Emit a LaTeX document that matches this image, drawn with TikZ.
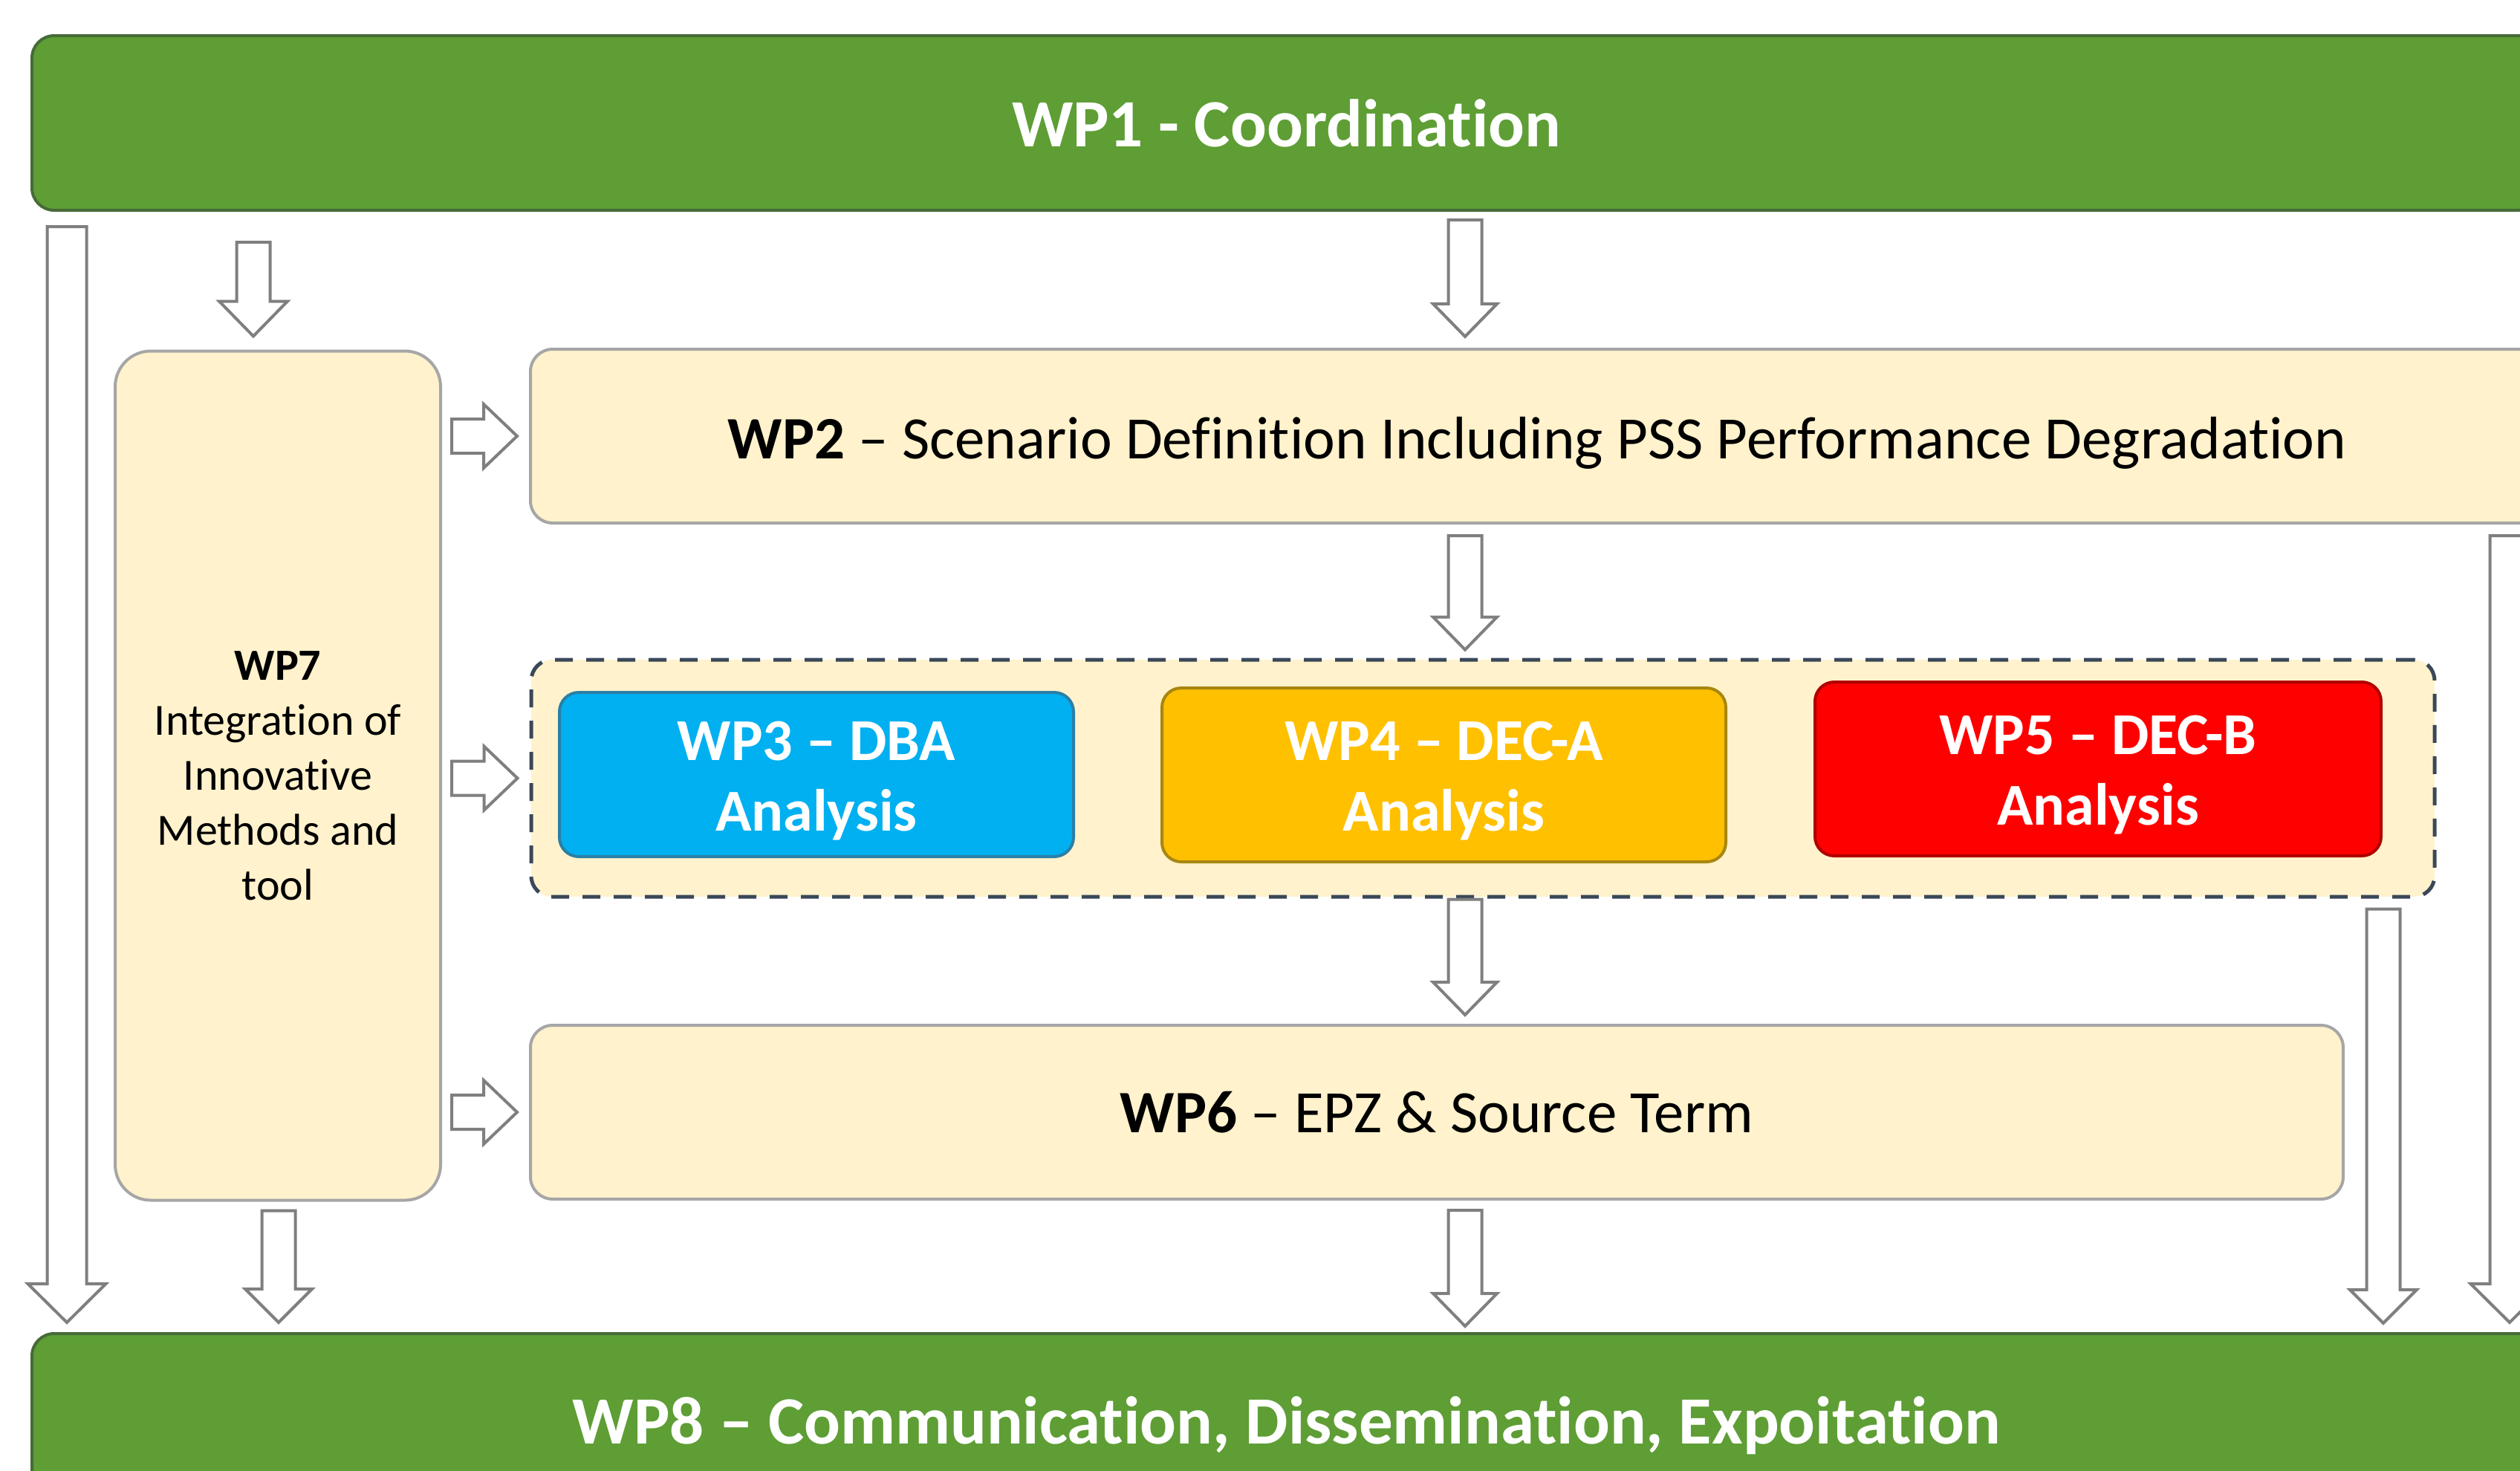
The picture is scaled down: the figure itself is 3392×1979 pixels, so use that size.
\documentclass[tikz,border=0pt]{standalone}
\usepackage{fontspec}
\setmainfont{Carlito}[RawFeature={-liga}]
\usetikzlibrary{calc}

\definecolor{wpgreen}{HTML}{5E9E35}
\definecolor{greenedge}{HTML}{476B38}
\definecolor{cream}{HTML}{FFF2CC}
\definecolor{creamedge}{HTML}{A6A6A6}
\definecolor{dashedge}{HTML}{3A4858}
\definecolor{wpblue}{HTML}{00B0F0}
\definecolor{blueedge}{HTML}{2A7FA6}
\definecolor{wporange}{HTML}{FFC000}
\definecolor{orangeedge}{HTML}{A8860F}
\definecolor{wpred}{HTML}{FF0000}
\definecolor{rededge}{HTML}{B00000}
\definecolor{arrowgray}{HTML}{7F7F7F}

% lower a label inside its box without changing the box size
\newcommand\lowertext[2]{\raisebox{#1}[\height][\depth]{#2}}
\newcommand\twolines[2]{\begin{tabular}{@{}c@{}}#1\\#2\end{tabular}}

\tikzset{
  greenbar/.style={draw=greenedge, fill=wpgreen, line width=4pt, rounded corners=30pt,
    minimum width=3377pt, minimum height=235pt, inner sep=0pt, text=white,
    font=\fontsize{91}{109}\selectfont\bfseries},
  creambox/.style={draw=creamedge, fill=cream, line width=4pt, rounded corners=30pt,
    inner sep=0pt, font=\fontsize{81}{97}\selectfont},
  analysis/.style={line width=4pt, rounded corners=26pt, inner sep=0pt, text=white,
    font=\fontsize{80}{95}\selectfont\bfseries},
  hollow/.style={draw=arrowgray, fill=white, line width=4pt, line join=miter},
  % block arrow pointing down: shaft half-width, head half-width, head length
  downarrow/.style n args={3}{to path={let \p1=(\tikztostart), \p2=(\tikztotarget) in
    (\x1-#1,\y1) -- (\x1-#1,\y2+#3) -- (\x1-#2,\y2+#3) -- (\x1,\y2)
    -- (\x1+#2,\y2+#3) -- (\x1+#1,\y2+#3) -- (\x1+#1,\y1) -- cycle}},
  % block arrow pointing right: shaft half-height, head half-height, head length
  rightarrow/.style n args={3}{to path={let \p1=(\tikztostart), \p2=(\tikztotarget) in
    (\x1,\y1+#1) -- (\x2-#3,\y1+#1) -- (\x2-#3,\y1+#2) -- (\x2,\y1)
    -- (\x2-#3,\y1-#2) -- (\x2-#3,\y1-#1) -- (\x1,\y1-#1) -- cycle}},
}

\begin{document}
\begin{tikzpicture}[x=1pt,y=-1pt]
\useasboundingbox (0,0) rectangle (3392,1979);
\fill[white] (0,0) rectangle (3392,1979);
\clip (0,0) rectangle (3392,1979);

% top and bottom work packages
\node[greenbar] (wp1) at (1731.5,165.5) {WP1 - Coordination};
\node[greenbar] (wp8) at (1731.5,1912.5)
  {\lowertext{-6pt}{WP8 – Communication, Dissemination, Expoitation}};

% cream work packages
\node[creambox, minimum width=2710pt, minimum height=234pt] (wp2) at (2069,587)
  {\lowertext{-9pt}{\textbf{WP2} – Scenario Definition Including PSS Performance Degradation}};
\node[creambox, minimum width=2440pt, minimum height=234pt] (wp6) at (1934,1497)
  {\textbf{WP6} – EPZ \& Source Term};
\node[creambox, rounded corners=48pt, minimum width=438pt, minimum height=1143pt,
  align=center, font=\fontsize{60}{74}\selectfont] (wp7) at (374,1044)
  {\textbf{WP7}\\Integration of\\Innovative\\Methods and\\tool};

% dashed group of the analysis packages
\node[draw=dashedge, fill=cream, line width=5pt, dash pattern=on 24pt off 18pt,
  rounded corners=28pt, minimum width=2562pt, minimum height=319pt] (grp) at (1996,1047.5) {};
\node[analysis, fill=wpblue, draw=blueedge, minimum width=692pt, minimum height=221pt]
  (wp3) at (1099,1042.5) {\lowertext{-9pt}{\twolines{WP3 – DBA}{Analysis}}};
\node[analysis, fill=wporange, draw=orangeedge, minimum width=759pt, minimum height=234pt]
  (wp4) at (1943.5,1043) {\lowertext{-9pt}{\twolines{WP4 – DEC-A}{Analysis}}};
\node[analysis, fill=wpred, draw=rededge, minimum width=762pt, minimum height=234pt]
  (wp5) at (2824,1035) {\lowertext{-9pt}{\twolines{WP5 – DEC-B}{Analysis}}};

% arrow columns
\coordinate (colL) at (90,0);
\coordinate (colR) at (3378,0);
\coordinate (colA) at (341,0);
\coordinate (colB) at (375,0);
\coordinate (colC) at (1972,0);
\coordinate (colD) at (3208,0);

% long side arrows
\draw[hollow, downarrow={26.5pt}{52.5pt}{52pt}]
  ([yshift=-20pt]wp1.south -| colL) to ([yshift=13pt]wp8.north -| colL);
\draw[hollow, downarrow={26.5pt}{52.5pt}{52pt}]
  ([yshift=-15pt]wp2.south -| colR) to ([yshift=13pt]wp8.north -| colR);

% WP7 in and out
\draw[hollow, downarrow={22.5pt}{46pt}{47pt}]
  ([yshift=-41pt]wp1.south -| colA) to ([yshift=18pt]wp7.north -| colA);
\draw[hollow, downarrow={22.5pt}{45pt}{45pt}]
  ([yshift=-12pt]wp7.south -| colB) to ([yshift=13pt]wp8.north -| colB);

% central chain
\draw[hollow, downarrow={22.5pt}{43pt}{44pt}]
  ([yshift=-11pt]wp1.south -| colC) to ([yshift=15pt]wp2.north -| colC);
\draw[hollow, downarrow={22.5pt}{43pt}{44pt}]
  ([yshift=-15pt]wp2.south -| colC) to ([yshift=11pt]grp.north -| colC);
\draw[hollow, downarrow={22.5pt}{43pt}{44pt}]
  ([yshift=-1pt]grp.south -| colC) to ([yshift=12pt]wp6.north -| colC);
\draw[hollow, downarrow={22.5pt}{43pt}{44pt}]
  ([yshift=-13pt]wp6.south -| colC) to ([yshift=8pt]wp8.north -| colC);

% analysis group to WP8
\draw[hollow, downarrow={22.5pt}{45pt}{45pt}]
  ([yshift=-14pt]grp.south -| colD) to ([yshift=12pt]wp8.north -| colD);

% WP7 feeding the work packages
\draw[hollow, rightarrow={23pt}{43pt}{45pt}]
  ([xshift=13pt]wp7.east |- wp2.west) to ([xshift=-16pt]wp2.west);
\draw[hollow, rightarrow={23pt}{43pt}{45pt}]
  ([xshift=13pt]wp7.east |- grp.west) to ([xshift=-16pt]grp.west);
\draw[hollow, rightarrow={23pt}{43pt}{45pt}]
  ([xshift=13pt]wp7.east |- wp6.west) to ([xshift=-16pt]wp6.west);
\end{tikzpicture}
\end{document}
